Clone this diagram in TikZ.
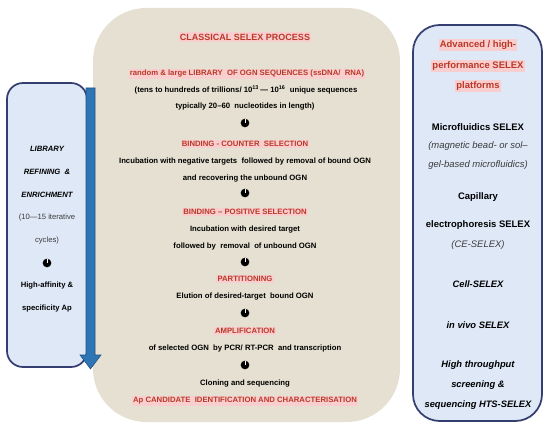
\documentclass[tikz,border=0pt]{standalone}
\usepackage{fontspec}
\setmainfont{Liberation Sans}
\definecolor{beige}{RGB}{229,224,209}
\definecolor{lblue}{RGB}{222,232,246}
\definecolor{dblue}{RGB}{52,62,112}
\definecolor{ablue}{RGB}{46,117,182}
\definecolor{selred}{RGB}{186,56,40}
\definecolor{selpink}{RGB}{248,206,206}
\definecolor{grtxt}{RGB}{60,60,60}
\begin{document}
\begin{tikzpicture}[x=0.75pt,y=-0.75pt,
  body/.style={font=\fontsize{5.8}{6.5}\selectfont\bfseries, text=black, inner sep=0.5pt},
  head/.style={font=\fontsize{5.8}{6.5}\selectfont\bfseries, text=selred, fill=selpink, inner sep=1pt},
  ttl/.style={font=\fontsize{6.75}{7.5}\selectfont\bfseries, text=selred, fill=selpink, inner sep=1pt},
  lbi/.style={font=\fontsize{5.75}{6.5}\selectfont\bfseries\itshape, text=black, inner sep=0.5pt},
  lrg/.style={font=\fontsize{5.75}{6.5}\selectfont, text=grtxt, inner sep=0.5pt},
  lbd/.style={font=\fontsize{5.75}{6.5}\selectfont\bfseries, text=black, inner sep=0.5pt},
  rhd/.style={font=\fontsize{7.1}{8}\selectfont\bfseries, text=selred, fill=selpink, inner sep=1pt},
  rbd/.style={font=\fontsize{7.1}{8}\selectfont\bfseries, text=black, inner sep=0.5pt},
  rit/.style={font=\fontsize{7.1}{8}\selectfont\itshape, text=grtxt, inner sep=0.5pt},
  rbi/.style={font=\fontsize{7}{8}\selectfont\bfseries\itshape, text=black, inner sep=0.5pt},
  dn/.style={circle, fill=black, minimum size=6.5, inner sep=0pt,
    path picture={\draw[white, line width=0.7pt] (path picture bounding box.north) -- (path picture bounding box.center);}},
  panel/.style={draw=dblue, line width=1.3pt, fill=lblue}
]
\useasboundingbox (0,0) rectangle (550,431);
\fill[white] (0,0) rectangle (550,431);
% central box
\node[fill=beige, rounded corners=40, minimum width=307*0.75pt, minimum height=414*0.75pt, inner sep=0pt] (main) at (246.5,215) {};
% left box
\node[panel, rounded corners=12, minimum width=80*0.75pt, minimum height=284*0.75pt, inner sep=0pt] (left) at (47,225) {};
% right box
\node[panel, rounded corners=20, minimum width=129*0.75pt, minimum height=396*0.75pt, inner sep=0pt] (right) at (477.5,223) {};
% arrow
\coordinate (at) at (86,88);
\fill[ablue, draw=ablue!70!black, line width=0.4pt] (at) -- ++(9,0) -- ++(0,267) -- ++(6,0) -- ++(-10.5,14) -- ++(-10.5,-14) -- ++(6,0) -- cycle;

% centre texts
\node[ttl] (t0) at (245,37) {CLASSICAL SELEX PROCESS};
\node[head] (t1) at (247,74) {random \& large LIBRARY\ \ OF OGN SEQUENCES (ssDNA/\ \ RNA)};
\node[body] (t2) at (246,90) {(tens to hundreds of trillions/ 10\textsuperscript{13}\,— 10\textsuperscript{16}\ \ unique sequences};
\node[body] (t3) at (245,107) {typically 20–60\ \ nucleotides in length)};
\node[dn] (a1) at (245,123) {};
\node[head] (t4) at (245,144) {BINDING - COUNTER\ \ SELECTION};
\node[body] (t5) at (245,162) {Incubation with negative targets\ \ followed by removal of bound OGN};
\node[body] (t6) at (245,179) {and recovering the unbound OGN};
\node[dn] (a2) at (245,193) {};
\node[head] (t7) at (245,212) {BINDING – POSITIVE SELECTION};
\node[body] (t8) at (245,230) {Incubation with desired target};
\node[body] (t9) at (245,247) {followed by\ \ removal\ \ of unbound OGN};
\node[dn] (a3) at (245,262) {};
\node[head] (t10) at (245,279) {PARTITIONING};
\node[body] (t11) at (245,297) {Elution of desired-target\ \ bound OGN};
\node[dn] (a4) at (245,313) {};
\node[head] (t12) at (245,331) {AMPLIFICATION};
\node[body] (t13) at (245,348) {of selected OGN\ \ by PCR/ RT-PCR\ \ and transcription};
\node[dn] (a5) at (245,365) {};
\node[body] (t14) at (245,384) {Cloning and sequencing};
\node[head] (t15) at (245,401) {Ap CANDIDATE\ \ IDENTIFICATION AND CHARACTERISATION};

% left texts
\node[lbi] (l1) at (47,149) {LIBRARY};
\node[lbi] (l2) at (47,172) {REFINING\ \ \&};
\node[lbi] (l3) at (47,195) {ENRICHMENT};
\node[lrg] (l4) at (47,218) {(10—15 iterative};
\node[lrg] (l5) at (47,241) {cycles)};
\node[dn] (la) at (47,263) {};
\node[lbd] (l6) at (47,286) {High-affinity \&};
\node[lbd] (l7) at (47,309) {specificity Ap};

% right texts
\node[rhd] (r1) at (478,45) {Advanced / high-};
\node[rhd] (r2) at (478,66) {performance SELEX};
\node[rhd] (r3) at (478,86) {platforms};
\node[rbd] (r4) at (478,127) {Microfluidics SELEX};
\node[rit] (r5) at (478,146) {(magnetic bead- or sol–};
\node[rit] (r6) at (478,165) {gel-based microfluidics)};
\node[rbd] (r7) at (478,197) {Capillary};
\node[rbd] (r8) at (478,225) {electrophoresis SELEX};
\node[rit] (r9) at (478,245) {(CE-SELEX)};
\node[rbi] (r10) at (478,284) {Cell-SELEX};
\node[rbi] (r11) at (478,325) {in vivo SELEX};
\node[rbi] (r12) at (478,365) {High throughput};
\node[rbi] (r13) at (478,385) {screening \&};
\node[rbi] (r14) at (478,405) {sequencing HTS-SELEX};
\end{tikzpicture}
\end{document}
